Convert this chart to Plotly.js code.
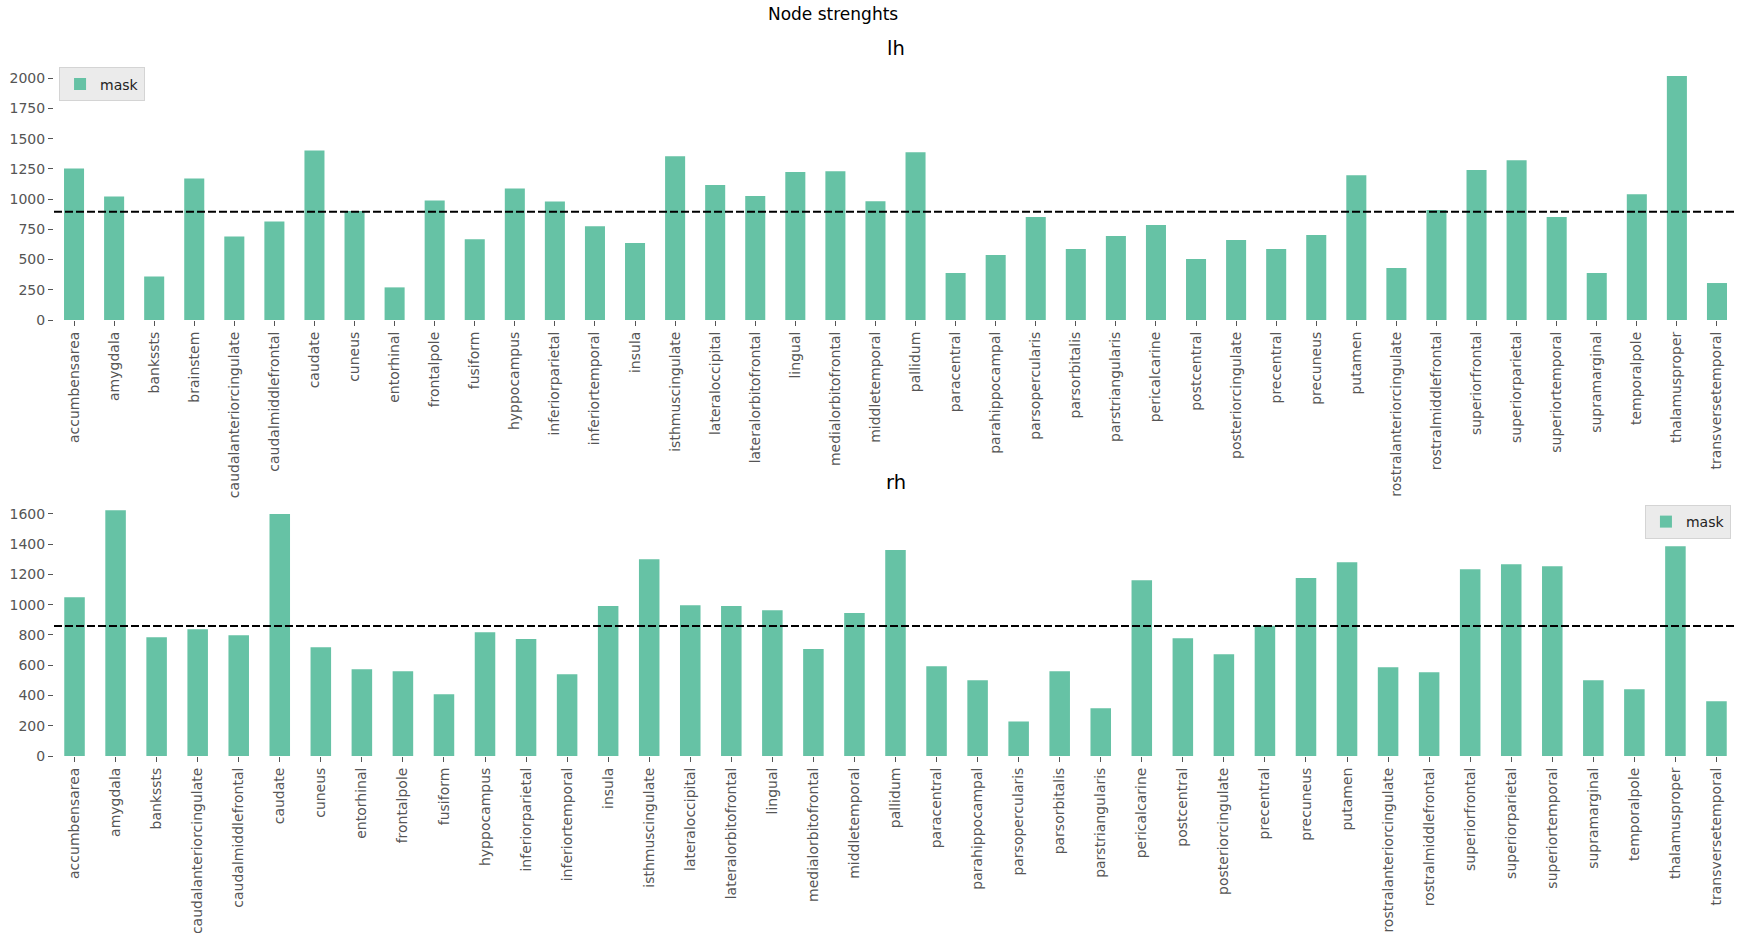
<!DOCTYPE html>
<html>
<head>
<meta charset="utf-8">
<script src="https://cdn.plot.ly/plotly-3.0.1.min.js"></script>
<style>html,body{margin:0;padding:0;background:#fff;}#chart{width:1752px;height:933px;}</style>
</head>
<body>
<div id="chart"></div>
<script>
const lhRegions = ["accumbensarea","amygdala","bankssts","brainstem","caudalanteriorcingulate","caudalmiddlefrontal","caudate","cuneus","entorhinal","frontalpole","fusiform","hyppocampus","inferiorparietal","inferiortemporal","insula","isthmuscingulate","lateraloccipital","lateralorbitofrontal","lingual","medialorbitofrontal","middletemporal","pallidum","paracentral","parahippocampal","parsopercularis","parsorbitalis","parstriangularis","pericalcarine","postcentral","posteriorcingulate","precentral","precuneus","putamen","rostralanteriorcingulate","rostralmiddlefrontal","superiorfrontal","superiorparietal","superiortemporal","supramarginal","temporalpole","thalamusproper","transversetemporal"];
const lhValues = [1253,1022,361,1171,691,815,1402,901,270,989,667,1088,981,775,636,1355,1116,1025,1223,1231,983,1388,388,537,851,587,694,785,504,661,587,703,1198,430,909,1240,1322,851,388,1041,2017,306];
const lhMean = 895;

const rhRegions = ["accumbensarea","amygdala","bankssts","caudalanteriorcingulate","caudalmiddlefrontal","caudate","cuneus","entorhinal","frontalpole","fusiform","hyppocampus","inferiorparietal","inferiortemporal","insula","isthmuscingulate","lateraloccipital","lateralorbitofrontal","lingual","medialorbitofrontal","middletemporal","pallidum","paracentral","parahippocampal","parsopercularis","parsorbitalis","parstriangularis","pericalcarine","postcentral","posteriorcingulate","precentral","precuneus","putamen","rostralanteriorcingulate","rostralmiddlefrontal","superiorfrontal","superiorparietal","superiortemporal","supramarginal","temporalpole","thalamusproper","transversetemporal"];
const rhValues = [1049,1624,785,838,798,1598,719,573,560,408,818,772,540,990,1300,996,990,963,706,944,1360,593,501,228,560,316,1161,778,672,860,1175,1280,586,553,1234,1267,1254,501,441,1386,362];
const rhMean = 858;

const barColor = "#66c2a5";
const font = "DejaVu Sans, sans-serif";

const traces = [
  {type:"bar", x: lhRegions, y: lhValues, name:"mask", marker:{color:barColor}, xaxis:"x", yaxis:"y", legend:"legend", legendgroup:"lh", showlegend:true},
  {type:"bar", x: rhRegions, y: rhValues, name:"mask", marker:{color:barColor}, xaxis:"x2", yaxis:"y2", legend:"legend2", legendgroup:"rh", showlegend:true}
];

const axCommon = {
  showgrid:false, zeroline:false, showline:false,
  ticks:"outside", ticklen:5, tickwidth:1, tickcolor:"#555",
  tickfont:{family:font, size:14, color:"#555"}
};

const legendCommon = {bgcolor:"#ebebeb", bordercolor:"#d4d4d4", borderwidth:1, font:{family:font, size:14, color:"#222"}, visible:true};

const layout = {
  width:1752, height:933,
  paper_bgcolor:"#fff", plot_bgcolor:"#fff",
  margin:{l:54, r:15, t:64, b:177, pad:0},
  bargap:0.5,
  showlegend:true,
  font:{family:font, color:"#222"},
  title:{text:"Node strenghts", font:{family:font, size:17, color:"#000"}, xref:"container", x:0.4755, xanchor:"center", yref:"container", y:0.985, yanchor:"middle"},
  xaxis: Object.assign({}, axCommon, {domain:[0,1], anchor:"y", type:"category", range:[-0.5, lhRegions.length-0.5], tickangle:-90}),
  yaxis: Object.assign({}, axCommon, {domain:[0.630,1], anchor:"x", range:[0,2117], dtick:250, tick0:0}),
  xaxis2: Object.assign({}, axCommon, {domain:[0,1], anchor:"y2", type:"category", range:[-0.5, rhRegions.length-0.5], tickangle:-90}),
  yaxis2: Object.assign({}, axCommon, {domain:[0,0.373], anchor:"x2", range:[0,1705], dtick:200, tick0:0}),
  legend: Object.assign({}, legendCommon, {x:0.003, xanchor:"left", y:0.995, yanchor:"top"}),
  legend2: Object.assign({}, legendCommon, {x:0.9964, xanchor:"right", y:0.3627, yanchor:"top"}),
  shapes:[
    {type:"line", xref:"x domain", x0:0, x1:1, yref:"y", y0:lhMean, y1:lhMean, line:{color:"#000", width:2, dash:"8px,3px"}},
    {type:"line", xref:"x2 domain", x0:0, x1:1, yref:"y2", y0:rhMean, y1:rhMean, line:{color:"#000", width:2, dash:"8px,3px"}}
  ],
  annotations:[
    {text:"lh", xref:"x domain", x:0.5, yref:"y domain", y:1, xanchor:"center", yanchor:"bottom", yshift:2, showarrow:false, font:{family:font, size:19.5, color:"#000"}},
    {text:"rh", xref:"x2 domain", x:0.5, yref:"y2 domain", y:1, xanchor:"center", yanchor:"bottom", yshift:2, showarrow:false, font:{family:font, size:19.5, color:"#000"}}
  ]
};

Plotly.newPlot("chart", traces, layout, {displayModeBar:false, staticPlot:true});
</script>
</body>
</html>
